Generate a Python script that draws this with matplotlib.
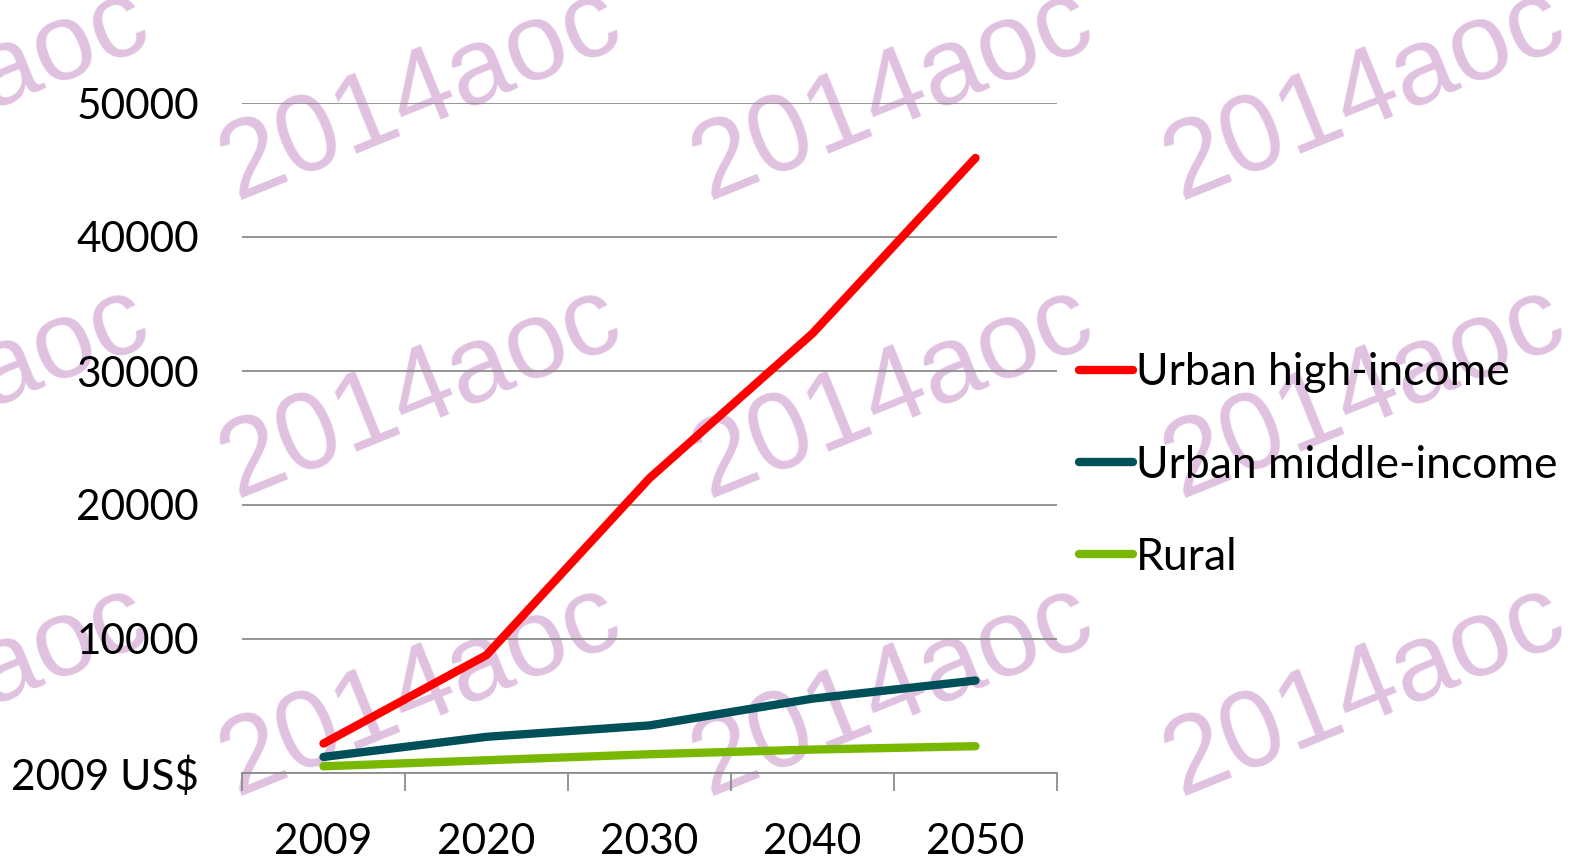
import matplotlib
matplotlib.use("Agg")
from matplotlib import pyplot as plt
import numpy as np

# chart data (2009 US$)
years = ['2009', '2020', '2030', '2040', '2050']
urban_high = [2200, 8800, 22000, 32800, 45900]
urban_middle = [1200, 2700, 3550, 5550, 6900]
rural = [500, 950, 1400, 1750, 2000]
y_ticks = [0, 10000, 20000, 30000, 40000, 50000]
y_labels = ['2009 US$', '10000', '20000', '30000', '40000', '50000']

W, H = 1575, 865
plt.rcParams['font.family'] = ['Lato', 'DejaVu Sans']

fig = plt.figure(figsize=(W / 100, H / 100), dpi=100)
ax = fig.add_axes([242 / W, 1 - 773 / H, (1057 - 242) / W, (773 - 103) / H])
ax.set_facecolor('none')

x = np.arange(len(years))
lw = 6
ax.plot(x, urban_high, color='#FF0000', lw=lw, solid_capstyle='round', solid_joinstyle='round',
		label='Urban high-income', zorder=3)
ax.plot(x, urban_middle, color='#00505A', lw=lw, solid_capstyle='round', solid_joinstyle='round',
		label='Urban middle-income', zorder=3)
ax.plot(x, rural, color='#78B800', lw=lw, solid_capstyle='round', solid_joinstyle='round',
		label='Rural', zorder=3)

ax.set_xlim(-0.5, len(years) - 0.5)
ax.set_ylim(0, 50000)

# y axis: gridlines only
ax.set_yticks(y_ticks)
ax.set_yticklabels(y_labels, fontsize=30.5)
ax.tick_params(axis='y', length=0, pad=31)
ax.grid(axis='y', color='#8C8C8C', lw=1.3)
ax.set_axisbelow(True)

# x axis: tick marks between categories, labels at centres
ax.set_xticks(np.arange(-0.5, len(years), 1.0))
ax.set_xticklabels([])
ax.set_xticks(x, minor=True)
ax.set_xticklabels(years, minor=True, fontsize=30.5)
ax.tick_params(axis='x', which='major', length=13, width=1.3, color='#8C8C8C')
ax.tick_params(axis='x', which='minor', length=0, pad=36)

for s in ['left', 'right', 'top']:
	ax.spines[s].set_visible(False)
ax.spines['bottom'].set_color('#8C8C8C')
ax.spines['bottom'].set_linewidth(1.3)

leg = fig.legend(loc='center left', bbox_to_anchor=(1057 / W, 1 - 465 / H), frameon=False,
				 fontsize=32, handlelength=1.2, handletextpad=0.08, labelspacing=1.15, borderpad=0)
for h in leg.legend_handles:
	h.set_linewidth(6)
	h.set_solid_capstyle('round')

# watermark grid
for wx in [-236, 236, 708, 1180]:
	for wy in [200, 498, 796]:
		fig.text(wx / W, 1 - wy / H, '2014aoc', family='Liberation Sans', fontsize=79,
				 color='#E0C2E0', rotation=22, rotation_mode='anchor',
				 ha='left', va='baseline', zorder=-1)

fig.savefig('out.png', dpi=100)
